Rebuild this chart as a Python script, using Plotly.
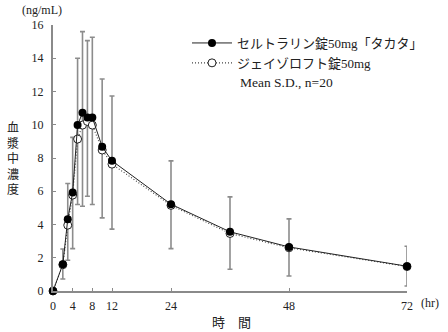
import plotly.graph_objects as go

# Sampling times (hr)
hours = [0, 2, 3, 4, 5, 6, 7, 8, 10, 12, 24, 36, 48, 72]
# Mean plasma concentration (ng/mL)
takata_mean = [0, 1.61, 4.32, 5.93, 9.98, 10.72, 10.44, 10.44, 8.67, 7.83, 5.22, 3.56, 2.65, 1.49]
zoloft_mean = [0, 1.58, 3.96, 5.77, 9.14, 9.98, 10.20, 9.98, 8.48, 7.63, 5.15, 3.46, 2.60, 1.47]
# S.D. extents (upper / lower) for the test product
sd_plus = [float("nan"), 0.92, 2.15, 3.31, 4.02, 4.88, 4.62, 4.82, 4.08, 3.90, 2.61, 2.10, 1.69, 1.20]
sd_minus = [float("nan"), 0.89, 2.47, 3.38, 4.78, 5.62, 4.74, 5.24, 4.27, 4.11, 2.67, 2.25, 1.75, 1.19]

x_ticks = [0, 4, 8, 12, 24, 48, 72]
y_ticks = [0, 2, 4, 6, 8, 10, 12, 14, 16]

W, H = 448, 332
ML, MR, MT, MB = 53, 41, 25, 41
PW, PH = W - ML - MR, H - MT - MB

SERIF = "Liberation Serif, Noto Sans CJK JP, serif"
AXIS_GREY = "#8a8a8a"


def px(xp):
    return (xp - ML) / PW


def py(yp):
    return (H - MB - yp) / PH


def label(text, xp, yp, size=12, xanchor="center"):
    return dict(text=text, x=px(xp), y=py(yp), xref="paper", yref="paper",
                xanchor=xanchor, yanchor="middle", showarrow=False,
                font=dict(family=SERIF, size=size, color="#222"))


fig = go.Figure()

# S.D. bars (drawn beneath the lines and markers)
fig.add_trace(go.Scatter(
    x=hours, y=takata_mean, mode="markers",
    marker=dict(size=1, color="rgba(0,0,0,0)"),
    error_y=dict(type="data", symmetric=False, array=sd_plus, arrayminus=sd_minus,
                 color="#8c8c8c", thickness=1.6, width=2.5),
    showlegend=False, hoverinfo="skip", cliponaxis=False,
))

fig.add_trace(go.Scatter(
    x=hours, y=zoloft_mean, mode="lines+markers",
    name="ジェイゾロフト錠50mg",
    line=dict(color="#444444", width=1.1, dash="1px,2px"),
    marker=dict(symbol="circle", size=8, color="white", line=dict(color="#222222", width=1)),
    cliponaxis=False,
))

fig.add_trace(go.Scatter(
    x=hours, y=takata_mean, mode="lines+markers",
    name="セルトラリン錠50mg「タカタ」",
    line=dict(color="#222222", width=1),
    marker=dict(symbol="circle", size=8, color="black"),
    cliponaxis=False,
))

annotations = [
    label("(ng/mL)", 42, 10, 12),
    label("(hr)", 430, 303, 12),
    label("時　間", 231, 322, 13),
    label("Mean S.D., n=20", 238, 82, 13.5, xanchor="left"),
    # vertical y-axis title, one character per line
    label("<br>".join("血漿中濃度"), 13, 159, 12),
]

fig.update_layout(
    width=W, height=H,
    margin=dict(l=ML, r=MR, t=MT, b=MB, pad=0),
    paper_bgcolor="white", plot_bgcolor="white",
    font=dict(family=SERIF, size=12, color="#222"),
    showlegend=True,
    legend=dict(
        x=px(187), y=py(28), xanchor="left", yanchor="top",
        traceorder="reversed", bgcolor="rgba(0,0,0,0)",
        font=dict(family=SERIF, size=13, color="#222"),
        itemwidth=40, tracegroupgap=0,
    ),
    xaxis=dict(
        range=[0, 72], tickvals=x_ticks, ticktext=[str(v) for v in x_ticks],
        showgrid=False, zeroline=False,
        showline=True, linecolor=AXIS_GREY, linewidth=2,
        ticks="inside", ticklen=3, tickcolor=AXIS_GREY, tickwidth=1,
        ticklabelstandoff=3,
        tickfont=dict(family=SERIF, size=12, color="#222"),
    ),
    yaxis=dict(
        range=[0, 16], tickvals=y_ticks,
        showgrid=False, zeroline=False,
        showline=True, linecolor=AXIS_GREY, linewidth=2,
        ticks="inside", ticklen=3, tickcolor=AXIS_GREY, tickwidth=1,
        ticklabelstandoff=5,
        tickfont=dict(family=SERIF, size=12, color="#222"),
    ),
    annotations=annotations,
)

fig.write_html("out.html")
